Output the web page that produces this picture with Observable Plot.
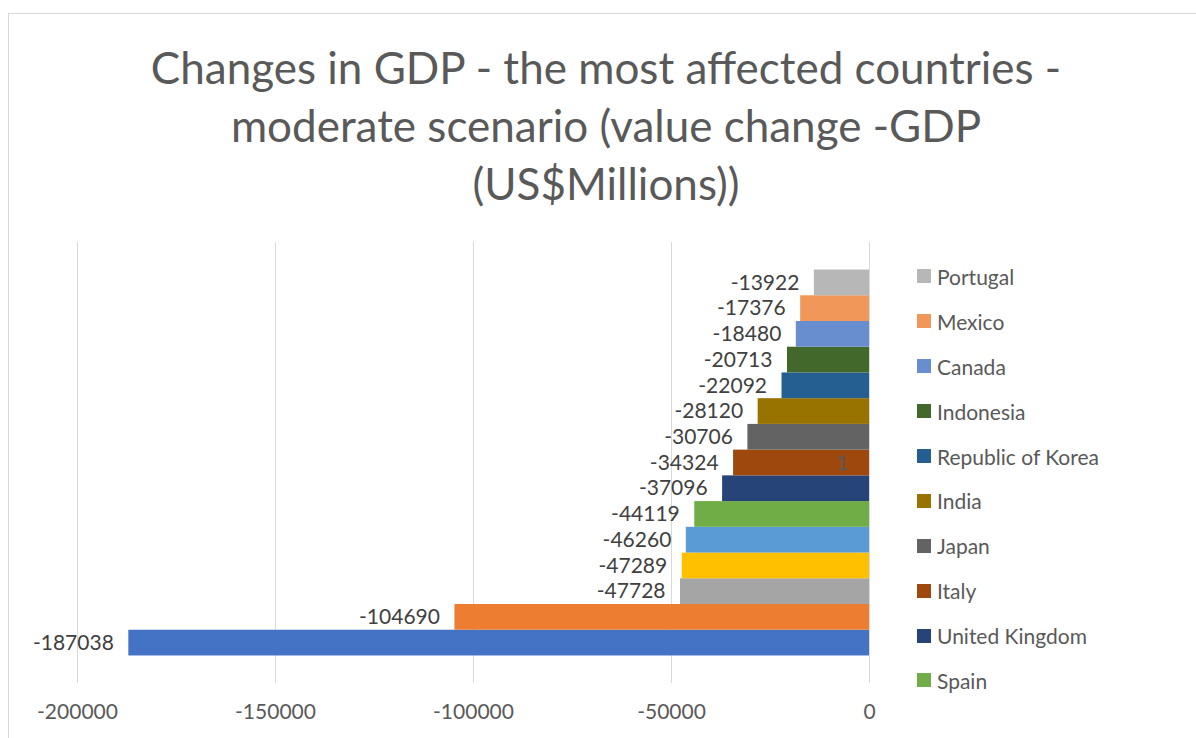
<!DOCTYPE html>
<html>
<head>
<meta charset="utf-8">
<script src="https://cdn.jsdelivr.net/npm/d3@7"></script>
<script src="https://cdn.jsdelivr.net/npm/@observablehq/plot@0.6"></script>
<style>
  html, body { margin: 0; padding: 0; background: #fff; overflow: hidden; width: 1196px; height: 738px; }
  #frame { position: absolute; left: 8px; top: 13px; width: 1200px; height: 740px; border: 1px solid #D9D9D9; box-sizing: border-box; }
  #title { position: absolute; left: 8px; width: 1196px; top: 38px; text-align: center; font-family: Lato, sans-serif; font-size: 44px; line-height: 58px; color: #595959; }
  #chart { position: absolute; left: 0; top: 222px; }
  #legend { position: absolute; left: 917px; top: 254px; font-family: Lato, sans-serif; font-size: 21px; color: #595959; }
  .item { height: 44.9px; display: flex; align-items: center; white-space: nowrap; }
  .sw { width: 14px; height: 14px; margin-right: 6px; flex: none; }
</style>
</head>
<body>
<div id="frame"></div>
<div id="title">Changes in GDP - the most affected countries -<br>moderate scenario (value change -GDP<br>(US$Millions))</div>
<div id="chart"></div>
<div id="legend"></div>
<script>
// Series in Excel order (series 1 = bottom bar)
const countries = ["United States", "China", "Germany", "France", "Brazil", "Spain", "United Kingdom", "Italy", "Japan", "India", "Republic of Korea", "Indonesia", "Canada", "Mexico", "Portugal"];
const values = [-187038, -104690, -47728, -47289, -46260, -44119, -37096, -34324, -30706, -28120, -22092, -20713, -18480, -17376, -13922];
const colors = ["#4472C4", "#ED7D31", "#A5A5A5", "#FFC000", "#5B9BD5", "#70AD47", "#264478", "#9E480E", "#636363", "#997300", "#255E91", "#43682B", "#698ED0", "#F1975A", "#B7B7B7"];
const xTicks = [-200000, -150000, -100000, -50000, 0];
const categoryLabel = ["1"];
const legendVisible = 10; // legend entries that fit in the reference

const data = countries.map((c, i) => ({name: c, value: values[i], color: colors[i]}));
const topToBottom = countries.slice().reverse();

const plot = Plot.plot({
  width: 1196,
  height: 506,
  marginLeft: 77,
  marginRight: 327,
  marginTop: 20,
  marginBottom: 45,
  style: {fontFamily: "Lato, sans-serif", background: "transparent", overflow: "visible"},
  x: {domain: [-200000, 0], label: null},
  y: {domain: topToBottom, paddingInner: 0, paddingOuter: 1.07, round: false, axis: null},
  marks: [
    Plot.gridX(xTicks, {stroke: "#D9D9D9", strokeOpacity: 1, strokeWidth: 1}),
    Plot.barX(data, {x: "value", y: "name", fill: d => d.color}),
    Plot.ruleX([0], {stroke: "#D9D9D9", strokeWidth: 1}),
    Plot.text(data, {x: "value", y: "name", text: d => String(d.value), textAnchor: "end", dx: -15, fontSize: 21, fill: "#404040"}),
    Plot.text(categoryLabel, {text: d => d, frameAnchor: "right", textAnchor: "end", dx: -21, fontSize: 21, fill: "#595959"}),
    Plot.axisX(xTicks, {tickSize: 0, tickPadding: 21, tickFormat: d => String(d), fontSize: 21, fill: "#595959", label: null})
  ]
});
document.getElementById("chart").appendChild(plot);

const legend = document.getElementById("legend");
data.slice().reverse().slice(0, legendVisible).forEach(d => {
  const item = document.createElement("div");
  item.className = "item";
  const sw = document.createElement("span");
  sw.className = "sw";
  sw.style.background = d.color;
  const t = document.createElement("span");
  t.textContent = d.name;
  item.appendChild(sw);
  item.appendChild(t);
  legend.appendChild(item);
});
</script>
</body>
</html>
